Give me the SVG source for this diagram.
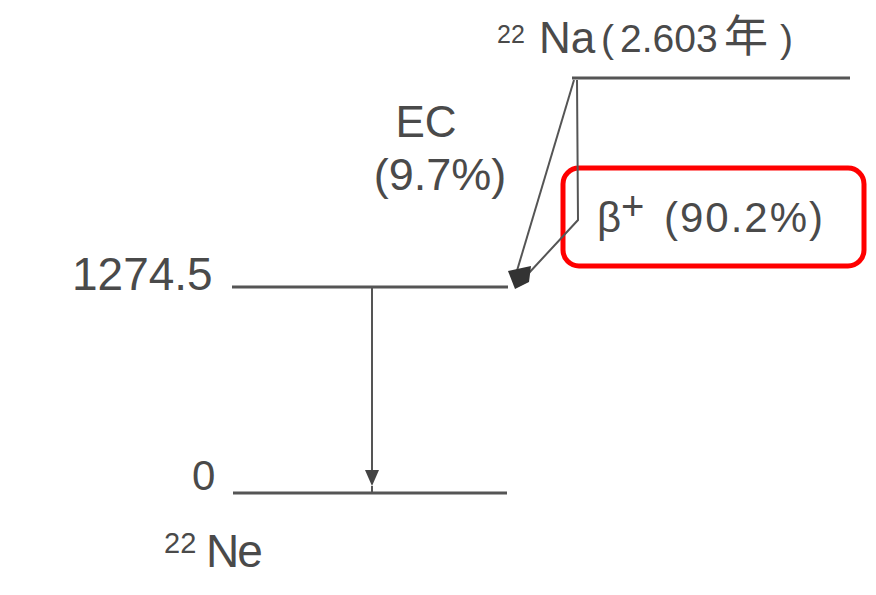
<svg xmlns="http://www.w3.org/2000/svg" width="876" height="595" viewBox="0 0 876 595">
<style>
.t{font-family:"Liberation Sans",Arial,sans-serif;fill:#4a4a4a}
.lv{stroke:#555;stroke-width:3;fill:none}
.tr{stroke:#555;stroke-width:2;fill:none}
</style>
<rect width="876" height="595" fill="#fff"/>
<g id="na22">
<line class="lv" x1="572" y1="78" x2="850" y2="78"/>
<text class="t" x="497" y="43" font-size="25">22</text>
<text class="t" x="539" y="53" font-size="44">Na</text>
<text class="t" y="52" font-size="39"><tspan x="601">(</tspan><tspan x="620">2.603</tspan><tspan x="724" font-size="44" font-family="'Noto Sans CJK JP',sans-serif">年</tspan><tspan x="780">)</tspan></text>
</g>
<g id="level1274">
<line class="lv" x1="232" y1="287" x2="508" y2="287"/>
<text class="t" x="72" y="290" font-size="46">1274.5</text>
</g>
<g id="ne22">
<line class="lv" x1="233" y1="493" x2="507" y2="493"/>
<text class="t" x="192" y="490" font-size="42">0</text>
<text class="t" x="164" y="553" font-size="29">22</text>
<text class="t" x="206" y="567" font-size="46" letter-spacing="-2">Ne</text>
</g>
<g id="labels">
<text class="t" x="426" y="137" font-size="44" text-anchor="middle">EC</text>
<text class="t" x="440" y="190" font-size="45" text-anchor="middle">(9.7%)</text>
<text class="t" x="597" y="232" font-size="42">β</text>
<text class="t" x="621" y="220" font-size="40">+</text>
<text class="t" x="664" y="232" font-size="42" letter-spacing="2">(90.2%)</text>
<rect x="563" y="168" width="301" height="98" rx="16" fill="none" stroke="#f00" stroke-width="5"/>
</g>
<g id="connectors">
<polyline class="tr" points="574,80 516,274"/>
<polyline class="tr" points="577,80 578,220 528,274"/>
<path d="M508,271 L531,266 L529,282 L515,289 z" fill="#333"/>
<line class="tr" x1="372" y1="287" x2="372" y2="478"/>
<path d="M365,470 L379,470 L372,486 z" fill="#444"/>
<line class="tr" x1="372" y1="486" x2="372" y2="493"/>
</g>
</svg>
